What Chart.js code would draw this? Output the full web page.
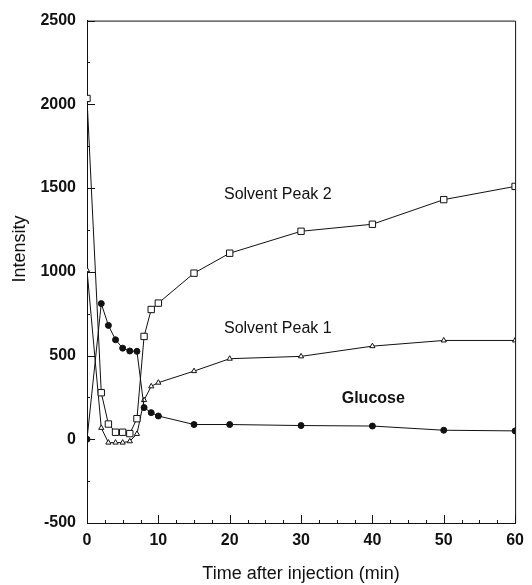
<!DOCTYPE html>
<html>
<head>
<meta charset="utf-8">
<script src="https://cdn.jsdelivr.net/npm/chart.js@4/dist/chart.umd.min.js"></script>
<style>
  html, body { margin: 0; padding: 0; background: #fff; }
  #wrap { width: 532px; height: 585px; }
</style>
</head>
<body>
<div id="wrap"><canvas id="myChart" width="532" height="585"></canvas></div>
<script>
// tiempo (min) y valores
const tiempos = [0, 2, 3, 4, 5, 6, 7, 8, 9, 10, 15, 20, 30, 40, 50, 60];
const glucosa = [0, 810, 680, 594, 544, 527, 525, 189, 159, 139, 88, 88, 82, 79, 54, 50];
const solvente2 = [2035, 278, 91, 42, 42, 34, 123, 614, 775, 813, 992, 1111, 1242, 1284, 1431, 1510];
const solvente1 = [1010, 68, -20, -20, -20, -12, 32, 234, 316, 338, 407, 481, 495, 556, 590, 590];

const etiquetas = [
  { text: 'Solvent Peak 2', x: 19.2, y: 1461, bold: false },
  { text: 'Solvent Peak 1', x: 19.2, y: 662, bold: false },
  { text: 'Glucose', x: 35.7, y: 245, bold: true }
];

const puntos = arr => arr.map((v, i) => ({ x: tiempos[i], y: v }));
const FONT = '"Liberation Sans", Arial, sans-serif';

// marcas hacia adentro, marco superior/derecho y textos
const extras = {
  id: 'extras',
  afterDraw(chart) {
    const ctx = chart.ctx;
    const xs = chart.scales.x, ys = chart.scales.y;
    const a = chart.chartArea;
    ctx.save();
    ctx.strokeStyle = '#111';
    ctx.lineWidth = 1;
    ctx.beginPath();
    ctx.moveTo(a.left, a.top + 0.5);
    ctx.lineTo(a.right + 0.5, a.top + 0.5);
    ctx.lineTo(a.right + 0.5, a.bottom);
    ctx.stroke();

    ctx.beginPath();
    for (let v = -500; v <= 2500; v += 250) {
      const py = Math.round(ys.getPixelForValue(v)) + 0.5;
      const len = v % 500 === 0 ? 8 : 3;
      ctx.moveTo(a.left, py);
      ctx.lineTo(a.left + len, py);
    }
    for (let t = 0; t <= 60; t += 2.5) {
      const px = Math.round(xs.getPixelForValue(t)) + 0.5;
      const len = t % 10 === 0 ? 8 : 3;
      ctx.moveTo(px, a.bottom);
      ctx.lineTo(px, a.bottom - len);
    }
    ctx.stroke();

    ctx.fillStyle = '#111';
    ctx.textBaseline = 'middle';
    ctx.textAlign = 'left';
    etiquetas.forEach(e => {
      ctx.font = (e.bold ? 'bold ' : '') + '16px ' + FONT;
      ctx.fillText(e.text, xs.getPixelForValue(e.x), ys.getPixelForValue(e.y));
    });

    ctx.translate(20, 249);
    ctx.rotate(-Math.PI / 2);
    ctx.textAlign = 'center';
    ctx.font = '18px ' + FONT;
    ctx.fillText('Intensity', 0, 0);
    ctx.restore();
  }
};

const serie = (label, data, style, radius, fill) => ({
  label: label,
  data: puntos(data),
  borderColor: '#111',
  borderWidth: 1,
  pointStyle: style,
  pointRadius: radius,
  pointBorderWidth: 1,
  pointBackgroundColor: fill,
  pointBorderColor: '#111',
  tension: 0
});

const config = {
  type: 'line',
  data: {
    datasets: [
      serie('Glucose', glucosa, 'circle', 3, '#111'),
      serie('Solvent Peak 2', solvente2, 'rect', 4.5, '#fff'),
      serie('Solvent Peak 1', solvente1, 'triangle', 3, '#fff')
    ]
  },
  options: {
    responsive: false,
    animation: false,
    layout: { padding: { top: 20, right: 9, left: 0, bottom: 0 } },
    plugins: {
      legend: { display: false },
      tooltip: { enabled: false }
    },
    scales: {
      x: {
        type: 'linear',
        min: 0,
        max: 60,
        afterFit: s => { s.height = 62; },
        grid: { display: false, drawTicks: false },
        border: { color: '#111', width: 1 },
        ticks: {
          stepSize: 10,
          padding: 8,
          color: '#111',
          callback: v => String(v),
          font: { family: FONT, size: 16, weight: 'bold' }
        },
        title: {
          display: true,
          text: 'Time after injection (min)',
          color: '#111',
          padding: { top: 0, bottom: 0 },
          font: { family: FONT, size: 18 }
        }
      },
      y: {
        min: -500,
        max: 2500,
        afterFit: s => { s.width = 87; },
        grid: { display: false, drawTicks: false },
        border: { color: '#111', width: 1 },
        ticks: {
          stepSize: 500,
          padding: 11,
          color: '#111',
          callback: v => String(v),
          font: { family: FONT, size: 16, weight: 'bold' }
        }
      }
    }
  },
  plugins: [extras]
};

const myChart = new Chart(document.getElementById('myChart'), config);
</script>
</body>
</html>
